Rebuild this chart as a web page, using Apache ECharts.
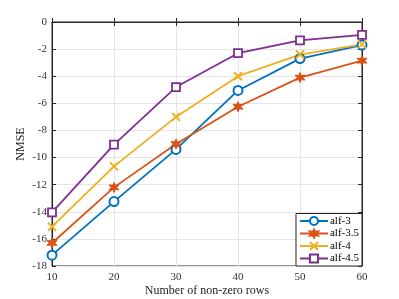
<!DOCTYPE html>
<html><head><meta charset="utf-8">
<script src="https://cdn.jsdelivr.net/npm/echarts@6/dist/echarts.min.js"></script>
<style>html,body{margin:0;padding:0;background:#fff}#c{width:399px;height:299px}</style>
</head><body><div id="c"></div>
<script>
const categories = [10, 20, 30, 40, 50, 60];
const alf3 = [-17.2, -13.25, -9.4, -5.05, -2.7, -1.7];
const alf35 = [-16.3, -12.2, -9.0, -6.25, -4.1, -2.85];
const alf4 = [-15.1, -10.65, -7.0, -4.0, -2.4, -1.65];
const alf45 = [-14.05, -9.05, -4.8, -2.3, -1.35, -0.95];
const seriesNames = ['alf-3', 'alf-3.5', 'alf-4', 'alf-4.5'];
const colors = ['#0072BD', '#D95319', '#EDB120', '#7E2F8E'];

const hexagram = 'path://M50,0L62,29L93,25L74,50L93,75L62,71L50,100L38,71L7,75L26,50L7,25L38,29Z';
const cross = 'path://M0,0L10,10M10,0L0,10';
const font = 'Liberation Serif';
const axColor = '#262626';

function pts(arr){ return categories.map((x,i)=>[x, arr[i]]); }

const chart = echarts.init(document.getElementById('c'), null, {renderer:'canvas'});
const common = {type:'line', lineStyle:{width:1.8}, symbolSize:8, z:3};
chart.setOption({
  animation:false,
  textStyle:{fontFamily:font},
  grid:{left:52, right:37, top:22, bottom:33, containLabel:false, outerBoundsMode:'none',
    show:true, borderColor:axColor, borderWidth:1, backgroundColor:'transparent'},
  legend:{
    orient:'vertical', right:37, bottom:33, data:seriesNames,
    backgroundColor:'#fff', borderColor:axColor, borderWidth:1, borderRadius:0,
    padding:[2,3,2,3], itemGap:1.5, itemWidth:28, itemHeight:10,
    textStyle:{fontFamily:font, fontSize:11, color:'#000', padding:[0,0,0,-3]}
  },
  xAxis:[{
    type:'value', min:10, max:60, interval:10,
    name:'Number of non-zero rows', nameLocation:'middle', nameGap:19, nameMoveOverlap:false,
    nameTextStyle:{fontFamily:font, fontSize:12, color:'#222'},
    axisLine:{show:true, lineStyle:{color:axColor}},
    axisTick:{inside:true, length:4, lineStyle:{color:axColor}},
    axisLabel:{fontFamily:font, fontSize:11, color:'#333', margin:6},
    splitLine:{show:true, lineStyle:{color:'#e5e5e5', width:1}}
  },{
    type:'value', position:'top', min:10, max:60, interval:10,
    axisLine:{show:true, lineStyle:{color:axColor}},
    axisTick:{inside:true, length:4, lineStyle:{color:axColor}},
    axisLabel:{show:false}, splitLine:{show:false}
  }],
  yAxis:[{
    type:'value', min:-18, max:0, interval:2,
    name:'NMSE', nameLocation:'middle', nameGap:25, nameRotate:90, nameMoveOverlap:false,
    nameTextStyle:{fontFamily:font, fontSize:12, color:'#222'},
    axisLine:{show:true, lineStyle:{color:axColor}},
    axisTick:{inside:true, length:4, lineStyle:{color:axColor}},
    axisLabel:{fontFamily:font, fontSize:11, color:'#333', margin:5},
    splitLine:{show:true, lineStyle:{color:'#e5e5e5', width:1}}
  },{
    type:'value', position:'right', min:-18, max:0, interval:2,
    axisLine:{show:true, lineStyle:{color:axColor}},
    axisTick:{inside:true, length:4, lineStyle:{color:axColor}},
    axisLabel:{show:false}, splitLine:{show:false}
  }],
  series:[
    Object.assign({}, common, {name:seriesNames[0], data:pts(alf3), symbol:'circle', symbolSize:9,
      itemStyle:{color:'#fff', borderColor:colors[0], borderWidth:2}, lineStyle:{width:1.8, color:colors[0]}, color:colors[0]}),
    Object.assign({}, common, {name:seriesNames[1], data:pts(alf35), symbol:hexagram, symbolSize:10,
      itemStyle:{color:colors[1], borderColor:colors[1], borderWidth:1}, lineStyle:{width:1.8, color:colors[1]}, color:colors[1]}),
    Object.assign({}, common, {name:seriesNames[2], data:pts(alf4), symbol:cross, symbolSize:8,
      itemStyle:{color:colors[2], borderColor:colors[2], borderWidth:2}, lineStyle:{width:1.8, color:colors[2]}, color:colors[2]}),
    Object.assign({}, common, {name:seriesNames[3], data:pts(alf45), symbol:'rect', symbolSize:8,
      itemStyle:{color:'#fff', borderColor:colors[3], borderWidth:1.8}, lineStyle:{width:1.8, color:colors[3]}, color:colors[3]})
  ]
});
</script></body></html>
